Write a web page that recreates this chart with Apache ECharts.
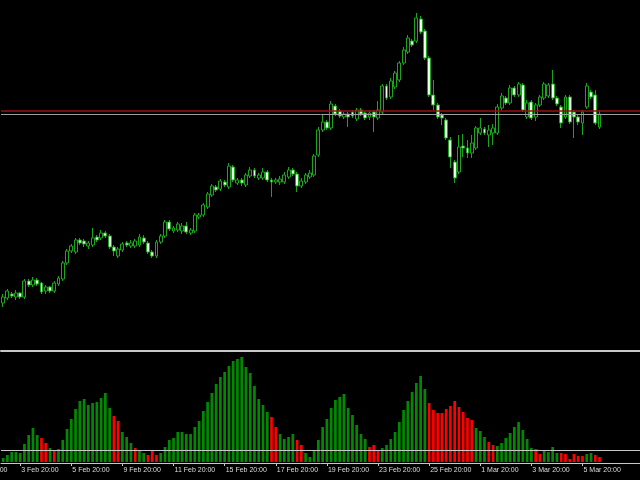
<!DOCTYPE html>
<html><head><meta charset="utf-8">
<script src="https://cdn.jsdelivr.net/npm/echarts@6/dist/echarts.min.js"></script>
<style>html,body{margin:0;padding:0;background:#000;}#c{width:640px;height:480px;}</style>
</head><body><div id="c"></div>
<script>
// ---- H4 candles (price), oldest first ----
const opens = [
1.1047,1.1052,1.1056,1.1053,1.1057,1.1053,1.1069,1.1065,1.1070,1.1067,
1.1059,1.1063,1.1059,1.1066,1.1071,1.1087,1.1099,1.1098,1.1110,1.1109,
1.1104,1.1105,1.1113,1.1112,1.1117,1.1114,1.1103,1.1094,1.1100,1.1107,
1.1104,1.1104,1.1105,1.1112,1.1107,1.1098,1.1094,1.1108,1.1114,1.1128,
1.1119,1.1120,1.1119,1.1124,1.1117,1.1119,1.1133,1.1135,1.1143,1.1155,
1.1163,1.1161,1.1168,1.1163,1.1183,1.1167,1.1170,1.1165,1.1174,1.1180,
1.1172,1.1172,1.1178,1.1170,1.1168,1.1168,1.1168,1.1173,1.1180,1.1176,
1.1164,1.1168,1.1173,1.1175,1.1195,1.1220,1.1228,1.1222,1.1244,1.1239,
1.1233,1.1236,1.1238,1.1231,1.1240,1.1237,1.1233,1.1238,1.1232,1.1238,
1.1264,1.1253,1.1263,1.1270,1.1287,1.1298,1.1309,1.1309,1.1331,1.1319,
1.1292,1.1255,1.1245,1.1235,1.1230,1.1210,1.1188,1.1178,1.1204,1.1202,
1.1197,1.1202,1.1217,1.1221,1.1215,1.1217,1.1217,1.1242,1.1252,1.1247,
1.1262,1.1255,1.1265,1.1233,1.1248,1.1233,1.1245,1.1252,1.1254,1.1266,
1.1252,1.1243,1.1233,1.1253,1.1238,1.1233,1.1227,1.1243,1.1258,1.1255,
1.1223];
const closes = [
1.1053,1.1059,1.1054,1.1057,1.1053,1.1069,1.1065,1.1070,1.1066,1.1058,
1.1063,1.1059,1.1067,1.1072,1.1087,1.1099,1.1104,1.1110,1.1107,1.1106,
1.1107,1.1112,1.1110,1.1117,1.1114,1.1103,1.1099,1.1101,1.1106,1.1105,
1.1107,1.1109,1.1113,1.1108,1.1098,1.1094,1.1108,1.1114,1.1128,1.1121,
1.1122,1.1126,1.1124,1.1118,1.1120,1.1135,1.1135,1.1145,1.1156,1.1164,
1.1160,1.1169,1.1165,1.1184,1.1170,1.1170,1.1167,1.1175,1.1180,1.1174,
1.1175,1.1178,1.1170,1.1168,1.1170,1.1171,1.1175,1.1180,1.1176,1.1164,
1.1169,1.1175,1.1177,1.1194,1.1220,1.1228,1.1222,1.1246,1.1236,1.1234,
1.1236,1.1233,1.1234,1.1240,1.1236,1.1232,1.1237,1.1233,1.1240,1.1264,
1.1252,1.1269,1.1277,1.1287,1.1300,1.1312,1.1305,1.1332,1.1318,1.1292,
1.1255,1.1245,1.1233,1.1232,1.1212,1.1193,1.1172,1.1203,1.1202,1.1197,
1.1207,1.1222,1.1222,1.1217,1.1220,1.1222,1.1243,1.1254,1.1247,1.1262,
1.1255,1.1266,1.1240,1.1247,1.1232,1.1245,1.1253,1.1266,1.1265,1.1252,
1.1246,1.1227,1.1253,1.1228,1.1233,1.1228,1.1238,1.1264,1.1253,1.1227,
1.1236];
const lows = [
1.1043,1.1050,1.1052,1.1050,1.1051,1.1051,1.1063,1.1063,1.1064,1.1056,
1.1056,1.1057,1.1057,1.1064,1.1069,1.1085,1.1097,1.1096,1.1105,1.1103,
1.1101,1.1103,1.1108,1.1110,1.1112,1.1101,1.1094,1.1092,1.1098,1.1103,
1.1102,1.1102,1.1103,1.1106,1.1096,1.1092,1.1092,1.1106,1.1112,1.1119,
1.1117,1.1118,1.1116,1.1116,1.1115,1.1117,1.1131,1.1133,1.1141,1.1153,
1.1158,1.1159,1.1163,1.1161,1.1168,1.1165,1.1164,1.1163,1.1172,1.1172,
1.1170,1.1170,1.1168,1.1153,1.1166,1.1165,1.1166,1.1171,1.1174,1.1158,
1.1162,1.1166,1.1171,1.1173,1.1193,1.1218,1.1220,1.1220,1.1234,1.1232,
1.1231,1.1223,1.1232,1.1229,1.1234,1.1230,1.1230,1.1218,1.1230,1.1236,
1.1250,1.1251,1.1261,1.1268,1.1285,1.1296,1.1303,1.1307,1.1316,1.1290,
1.1253,1.1240,1.1231,1.1225,1.1210,1.1182,1.1167,1.1176,1.1193,1.1192,
1.1192,1.1200,1.1215,1.1215,1.1203,1.1205,1.1215,1.1240,1.1245,1.1245,
1.1253,1.1253,1.1238,1.1231,1.1230,1.1229,1.1243,1.1250,1.1252,1.1250,
1.1244,1.1222,1.1231,1.1226,1.1212,1.1225,1.1215,1.1241,1.1251,1.1225,
1.1221];
const highs = [
1.1056,1.1061,1.1058,1.1060,1.1058,1.1071,1.1071,1.1073,1.1072,1.1068,
1.1065,1.1064,1.1069,1.1074,1.1089,1.1101,1.1106,1.1112,1.1112,1.1111,
1.1109,1.1122,1.1115,1.1120,1.1119,1.1116,1.1105,1.1103,1.1108,1.1109,
1.1110,1.1111,1.1116,1.1115,1.1109,1.1100,1.1110,1.1116,1.1130,1.1130,
1.1124,1.1128,1.1127,1.1128,1.1122,1.1137,1.1137,1.1147,1.1158,1.1166,
1.1165,1.1171,1.1170,1.1187,1.1185,1.1172,1.1172,1.1177,1.1183,1.1182,
1.1177,1.1182,1.1180,1.1172,1.1172,1.1174,1.1178,1.1183,1.1182,1.1178,
1.1172,1.1177,1.1180,1.1196,1.1223,1.1235,1.1230,1.1249,1.1246,1.1241,
1.1238,1.1238,1.1240,1.1242,1.1242,1.1239,1.1239,1.1240,1.1249,1.1266,
1.1266,1.1272,1.1279,1.1289,1.1303,1.1315,1.1311,1.1337,1.1334,1.1321,
1.1294,1.1270,1.1247,1.1237,1.1232,1.1213,1.1190,1.1215,1.1216,1.1210,
1.1215,1.1224,1.1232,1.1223,1.1225,1.1226,1.1246,1.1257,1.1254,1.1265,
1.1264,1.1268,1.1267,1.1250,1.1250,1.1247,1.1255,1.1268,1.1267,1.1280,
1.1254,1.1245,1.1255,1.1255,1.1240,1.1235,1.1240,1.1267,1.1260,1.1260,
1.1240];
const bidPrice = 1.1236;
const askPrice = 1.1239;

// ---- oscillator histogram ----
const histValues = [
4,7,10,10,9,18,27,34,27,24, 19,14,12,13,22,33,43,53,61,63,
57,59,60,64,69,54,46,41,30,25, 19,14,12,9,7,12,7,9,15,22,
24,30,30,28,28,35,41,51,60,69, 78,85,90,96,101,103,105,95,89,76,
63,57,50,45,35,28,23,25,28,22, 17,9,5,12,22,35,43,54,62,65,
68,54,47,37,28,23,15,17,11,14, 17,23,30,40,52,61,70,79,86,73,
59,52,49,49,53,56,61,55,50,44, 42,34,31,25,20,17,16,19,24,29,
35,40,32,23,14,13,8,12,10,15, 9,9,8,3,8,6,6,8,9,7,
5];
const histFallingBars = [9,10,12,26,27,31,34,35,36,63,64,69,70,86,87,88,
100,101,102,103,104,105,106,107,108,109,110,114,115,125,126,131,132,133,134,135,136,139,140];
const histLevel = 12;

// ---- time axis ----
// first label belongs to a bar scrolled off the left edge (8 bars before the first visible bar)
const tickLabels = ['1 Feb 20:00','3 Feb 20:00','5 Feb 20:00','9 Feb 20:00','11 Feb 20:00','15 Feb 20:00',
  '17 Feb 20:00','19 Feb 20:00','23 Feb 20:00','25 Feb 20:00','1 Mar 20:00','3 Mar 20:00','5 Mar 20:00'];
const barsPerTick = 12;
const firstTickBar = 4;   // bar index of '3 Feb 20:00'
const barsAfter = 9;      // empty chart shift on the right
const monthNames = ['Jan','Feb','Mar','Apr'];

const nBars = opens.length;
const nCats = nBars + barsAfter;
const categories = [];
let t = Date.UTC(2021, 1, 3, 4);
while (categories.length < nCats) {
  const d = new Date(t);
  const wd = d.getUTCDay();
  if (wd !== 0 && wd !== 6) {
    categories.push(d.getUTCDate() + ' ' + monthNames[d.getUTCMonth()] + ' ' + String(d.getUTCHours()).padStart(2, '0') + ':00');
  }
  t += 4 * 3600 * 1000;
}

const candleData = opens.map((o, i) => [o, closes[i], lows[i], highs[i]]);
const fallingSet = new Set(histFallingBars);

// layout
const barPitch = 4.26;
const firstBarX = 3.13;
const gridLeft = firstBarX - 0.5 * barPitch;
const gridWidth = nCats * barPitch;

const showTick = (idx) => idx % barsPerTick === firstTickBar && idx < nBars;
const labelFor = (idx) => tickLabels[1 + Math.round((idx - firstTickBar) / barsPerTick)] || '';

const chart = echarts.init(document.getElementById('c'), null, { renderer: 'canvas', width: 640, height: 480 });
chart.setOption({
  backgroundColor: '#000000',
  animation: false,
  grid: [
    { left: gridLeft, width: gridWidth, top: 0, height: 350 },
    { left: gridLeft, width: gridWidth, top: 352, height: 110 }
  ],
  xAxis: [
    {
      type: 'category', gridIndex: 0, data: categories, boundaryGap: true, offset: 1,
      axisLine: { show: true, onZero: false, lineStyle: { color: '#c8c8c8', width: 2 } },
      axisTick: { show: false }, axisLabel: { show: false }, splitLine: { show: false }
    },
    {
      type: 'category', gridIndex: 1, data: categories, boundaryGap: true, offset: 1,
      axisLine: { show: true, onZero: false, lineStyle: { color: '#c8c8c8', width: 1 } },
      axisTick: { show: true, interval: showTick, alignWithLabel: true, length: 3, lineStyle: { color: '#c8c8c8' } },
      axisLabel: {
        show: true, interval: showTick,
        formatter: (val, idx) => labelFor(idx),
        align: 'left', margin: 4, padding: [0, 0, 0, 1],
        color: '#dcdcdc', fontSize: 7, fontFamily: 'Liberation Sans'
      },
      splitLine: { show: false }
    }
  ],
  yAxis: [
    { type: 'value', gridIndex: 0, min: 1.1000, max: 1.1350, show: false, splitLine: { show: false } },
    { type: 'value', gridIndex: 1, min: 0, max: 110, show: false, splitLine: { show: false } }
  ],
  graphic: [{
    type: 'text', silent: true,
    x: firstBarX + (firstTickBar - barsPerTick) * barPitch + 1, y: 467,
    style: { text: tickLabels[0], fill: '#dcdcdc', fontSize: 7, fontFamily: 'Liberation Sans', textVerticalAlign: 'top' }
  }],
  series: [
    {
      type: 'line', xAxisIndex: 0, yAxisIndex: 0, data: [], silent: true, symbol: 'none', z: 1,
      markLine: {
        silent: true, symbol: ['none', 'none'], label: { show: false }, animation: false, precision: 4,
        data: [
          { yAxis: askPrice, lineStyle: { color: '#9a1010', width: 1.5, type: 'solid' } },
          { yAxis: bidPrice, lineStyle: { color: '#a0a0a0', width: 1, type: 'solid' } }
        ]
      }
    },
    {
      type: 'candlestick', xAxisIndex: 0, yAxisIndex: 0, data: candleData, z: 3,
      barWidth: 3.4,
      itemStyle: { color: '#000000', color0: '#e8ffe8', borderColor: '#1aa51a', borderColor0: '#1aa51a', borderWidth: 1 }
    },
    {
      type: 'bar', xAxisIndex: 1, yAxisIndex: 1, data: histValues,
      barWidth: 2.7,
      itemStyle: { color: (p) => fallingSet.has(p.dataIndex) ? '#ff0000' : '#008a00' },
      markLine: {
        silent: true, symbol: ['none', 'none'], label: { show: false }, z: 10,
        data: [{ yAxis: histLevel }],
        lineStyle: { color: '#c8c8c8', width: 1, type: 'solid' }
      }
    }
  ]
});
</script></body></html>
